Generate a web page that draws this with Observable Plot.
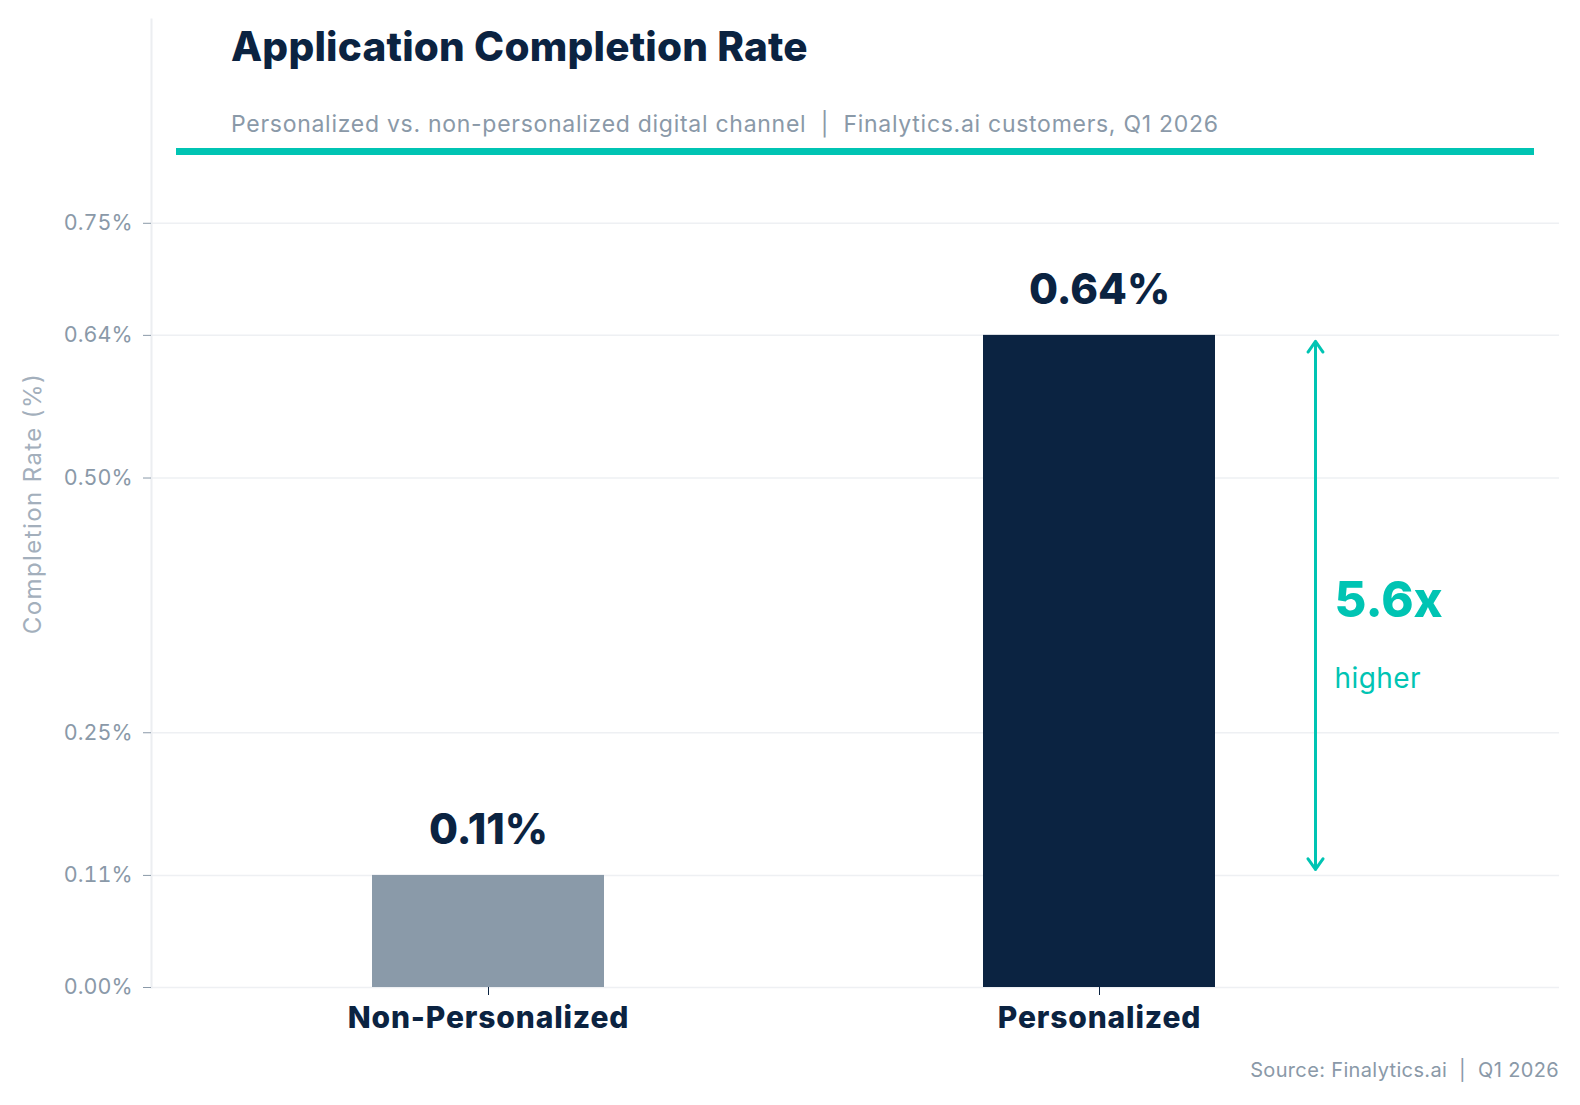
<!DOCTYPE html>
<html>
<head>
<meta charset="utf-8">
<script src="https://cdn.jsdelivr.net/npm/d3@7"></script>
<script src="https://cdn.jsdelivr.net/npm/@observablehq/plot@0.6"></script>
<style>
  html, body { margin: 0; padding: 0; width: 1580px; height: 1105px; overflow: hidden; background: #ffffff; font-family: Inter, "Open Sans", sans-serif; }
  #wrap { position: relative; width: 1580px; height: 1105px; overflow: hidden; }
  #chart svg { display: block; }
  .title { position: absolute; left: 231px; top: 23px; font-size: 40.5px; line-height: 48px; font-weight: 800; color: #0b2341; letter-spacing: 0.2px; white-space: nowrap; }
  .subtitle { position: absolute; left: 231px; top: 110px; font-size: 23px; line-height: 28px; font-weight: 400; color: #8a99a8; letter-spacing: 0.72px; white-space: pre; }
  .accent { position: absolute; left: 176px; top: 148px; width: 1358px; height: 7px; background: #00c4b3; }
  .source { position: absolute; right: 21px; top: 1057px; font-size: 20px; line-height: 26px; color: #8a99a8; letter-spacing: 0.35px; white-space: pre; }
</style>
</head>
<body>
<div id="wrap">
  <div id="chart"></div>
  <div class="title">Application Completion Rate</div>
  <div class="subtitle">Personalized vs. non-personalized digital channel  |  Finalytics.ai customers, Q1 2026</div>
  <div class="accent"></div>
  <div class="source">Source: Finalytics.ai  |  Q1 2026</div>
</div>
<script>
const categories = ["Non-Personalized", "Personalized"];
const rates = [0.11, 0.64];
const barColors = ["#8a9aa9", "#0b2341"];
const yTicks = [0, 0.11, 0.25, 0.50, 0.64, 0.75];
const yLabel = "Completion Rate (%)";
const ratioText = "5.6x";
const ratioSub = "higher";

const data = categories.map((c, i) => ({ category: c, rate: rates[i], color: barColors[i] }));
const mid = (rates[0] + rates[1]) / 2;
const arrows = [
  { category: categories[1], y1: mid, y2: rates[1] },
  { category: categories[1], y1: mid, y2: rates[0] }
];
const teal = "#00c4b3";

const chart = Plot.plot({
  width: 1580,
  height: 1105,
  marginLeft: 151,
  marginRight: 21,
  marginTop: 19,
  marginBottom: 118,
  style: { fontFamily: "Inter, 'Open Sans', sans-serif", background: "transparent" },
  x: { domain: categories, range: [371.5, 1216], paddingInner: 0.62, paddingOuter: 0, align: 0.5 },
  y: { domain: [0, 0.95] },
  color: { type: "identity" },
  marks: [
    Plot.ruleY(yTicks, { stroke: "#eef0f3", strokeWidth: 1.5 }),
    Plot.frame({ anchor: "left", stroke: "#eceef1", strokeWidth: 2 }),
    Plot.barY(data, { x: "category", y: "rate", fill: "color" }),
    Plot.text(data, {
      x: "category", y: "rate",
      text: d => d.rate.toFixed(2) + "%",
      dy: -45, fontSize: 42, fontWeight: 800, fill: "#0b2341"
    }),
    Plot.arrow(arrows, {
      x: "category", y1: "y1", y2: "y2",
      dx: 216, stroke: teal, strokeWidth: 3, headAngle: 70, headLength: 6.5, insetEnd: 6
    }),
    Plot.text([{ category: categories[1], y: mid }], {
      x: "category", y: "y", text: () => ratioText,
      dx: 235, dy: -4, textAnchor: "start", fontSize: 49, fontWeight: 800, fill: teal
    }),
    Plot.text([{ category: categories[1], y: mid }], {
      x: "category", y: "y", text: () => ratioSub,
      dx: 235, dy: 74, textAnchor: "start", fontSize: 28, fontWeight: 400, fill: teal
    }),
    Plot.text([yLabel], {
      frameAnchor: "left", text: d => d, rotate: -90, dx: -118, textAnchor: "middle",
      fontSize: 24, fill: "#a3afbc"
    }),
    Plot.axisY({
      ticks: yTicks, tickFormat: d => d.toFixed(2) + "%",
      tickSize: 8, tickPadding: 11, fontSize: 21.5, color: "#8a99a8",
      label: null
    }),
    Plot.axisX({
      tickSize: 8, tickPadding: 11, fontSize: 30, fontWeight: 800, color: "#0b2341", label: null
    })
  ]
});
const spacing = new Map([[yLabel, "1.4px"], [ratioSub, "0.4px"]]);
chart.querySelectorAll("text").forEach(t => {
  if (spacing.has(t.textContent)) t.style.letterSpacing = spacing.get(t.textContent);
});
chart.querySelectorAll('g[aria-label="x-axis tick label"] text').forEach(t => t.style.letterSpacing = "0.85px");
document.getElementById("chart").appendChild(chart);
</script>
</body>
</html>
